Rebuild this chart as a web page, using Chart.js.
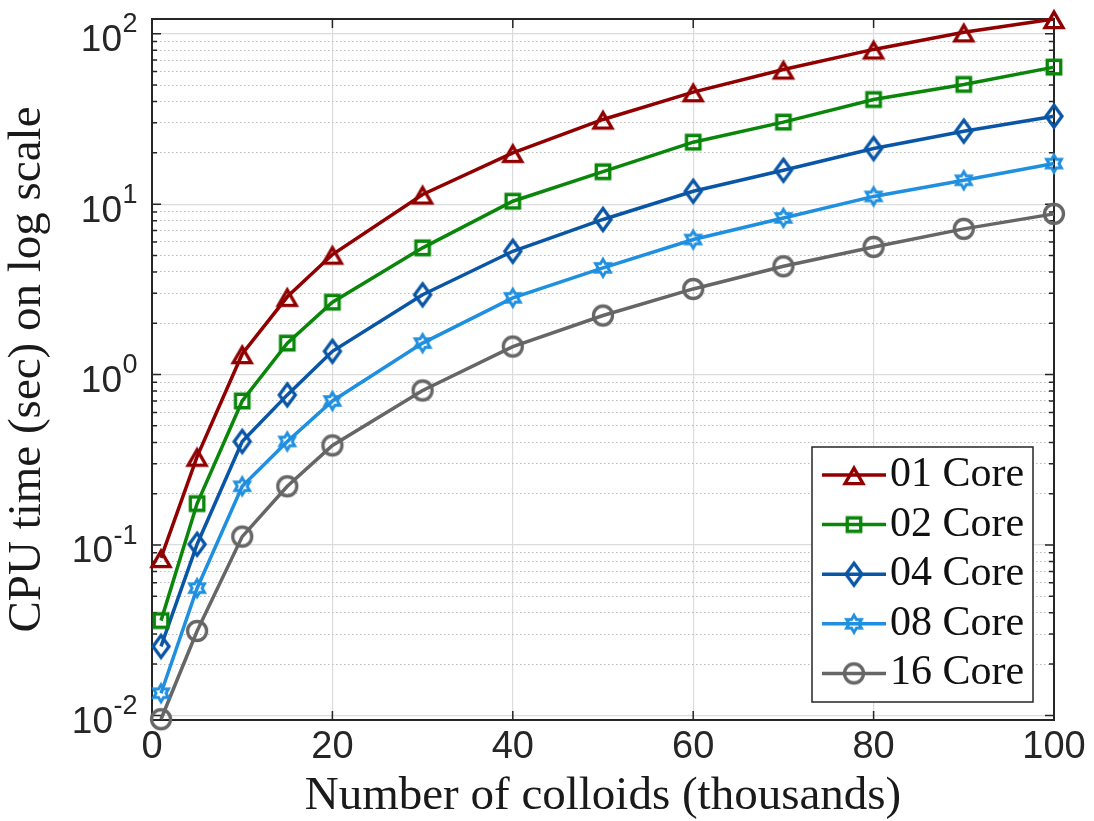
<!DOCTYPE html>
<html>
<head>
<meta charset="utf-8">
<script src="https://cdn.jsdelivr.net/npm/chart.js@4.4.1/dist/chart.umd.min.js"></script>
<style>
  html, body { margin: 0; padding: 0; background: #ffffff; }
  #wrap { width: 1094px; height: 821px; }
</style>
</head>
<body>
<div id="wrap"><canvas id="c" width="1094" height="821"></canvas></div>
<script>
// ---------------- data ----------------
const xThousands = [1, 5, 10, 15, 20, 30, 40, 50, 60, 70, 80, 90, 100];
const core01 = [0.084, 0.33, 1.32, 2.86, 5.06, 11.4, 20.0, 31.4, 45.4, 61.7, 80.9, 102, 122];
const core02 = [0.036, 0.175, 0.70, 1.53, 2.66, 5.54, 10.4, 15.5, 23.1, 30.3, 41.1, 50.4, 63.7];
const core04 = [0.0254, 0.101, 0.405, 0.76, 1.37, 2.94, 5.29, 8.13, 11.9, 15.8, 21.2, 26.8, 32.8];
const core08 = [0.0135, 0.0558, 0.221, 0.405, 0.70, 1.53, 2.82, 4.23, 6.2, 8.3, 11.1, 13.8, 17.3];
const core16 = [0.0095, 0.0313, 0.112, 0.221, 0.384, 0.807, 1.46, 2.22, 3.18, 4.32, 5.61, 7.16, 8.77];

const seriesLabels = ['01 Core', '02 Core', '04 Core', '08 Core', '16 Core'];
const seriesValues = [core01, core02, core04, core08, core16];
const seriesColors = ['#900000', '#0a870a', '#0a56a6', '#1f8fe0', '#666666'];
const seriesMarkers = ['triangle', 'square', 'diamond', 'hexagram', 'circle'];

const xTickValues = [0, 20, 40, 60, 80, 100];
const yDecadeExponents = [-2, -1, 0, 1, 2];
const yMin = 0.0094, yMax = 122;

const xTitle = 'Number of colloids (thousands)';
const yTitle = 'CPU time (sec) on log scale';

// ---------------- styling helpers ----------------
const AXIS_COLOR = '#262626';
const SANS = "'Liberation Sans', Arial, 'DejaVu Sans', sans-serif";
const SERIF = "'Liberation Serif', 'Times New Roman', 'DejaVu Serif', serif";

function makeMarker(kind, color) {
  const S = 36;
  const cv = document.createElement('canvas');
  cv.width = S; cv.height = S;
  const c = cv.getContext('2d');
  c.translate(S / 2, S / 2);
  c.strokeStyle = color;
  c.lineWidth = 3.3;
  c.lineJoin = 'miter';
  c.beginPath();
  if (kind === 'triangle') {
    const w = 18, h = 15.5;
    c.moveTo(0, -h / 2 + 0.8);
    c.lineTo(w / 2, h / 2 + 0.8);
    c.lineTo(-w / 2, h / 2 + 0.8);
    c.closePath();
  } else if (kind === 'square') {
    const s = 13.5;
    c.rect(-s / 2, -s / 2, s, s);
  } else if (kind === 'diamond') {
    const hw = 8, hh = 11;
    c.moveTo(0, -hh); c.lineTo(hw, 0); c.lineTo(0, hh); c.lineTo(-hw, 0);
    c.closePath();
  } else if (kind === 'hexagram') {
    c.lineWidth = 2.9;
    const R = 8.6, r = R / Math.sqrt(3);
    for (let k = 0; k < 12; k++) {
      const a = (-90 + k * 30) * Math.PI / 180;
      const rad = (k % 2 === 0) ? R : r;
      const px = rad * Math.cos(a), py = rad * Math.sin(a);
      if (k === 0) c.moveTo(px, py); else c.lineTo(px, py);
    }
    c.closePath();
  } else {
    c.arc(0, 0, 9.5, 0, Math.PI * 2);
  }
  c.stroke();
  return cv;
}

const markerImages = seriesMarkers.map((m, i) => makeMarker(m, seriesColors[i]));

const datasets = seriesValues.map((vals, i) => ({
  label: seriesLabels[i],
  data: xThousands.map((x, j) => ({ x: x, y: vals[j] })),
  borderColor: seriesColors[i],
  backgroundColor: seriesColors[i],
  borderWidth: 3.5,
  tension: 0,
  pointStyle: markerImages[i],
  pointRadius: 11,
  pointHoverRadius: 11,
  clip: false
}));

// y tick list: decades plus minor 2..9
const yTickValues = [];
yDecadeExponents.forEach(e => {
  for (let m = 1; m <= 9; m++) {
    const v = m * Math.pow(10, e);
    if (v >= yMin && v <= yMax) yTickValues.push(+v.toPrecision(6));
  }
});
function isDecade(v) {
  const l = Math.log10(v);
  return Math.abs(l - Math.round(l)) < 1e-6;
}

// ---------------- plugins ----------------
const framePlugin = {
  id: 'matlabFrame',
  beforeDatasetsDraw(chart) {
    const { ctx, chartArea: a, scales } = chart;
    ctx.save();
    ctx.strokeStyle = AXIS_COLOR;
    ctx.lineWidth = 1.5;
    xTickValues.forEach(v => {
      const px = scales.x.getPixelForValue(v);
      ctx.beginPath();
      ctx.moveTo(px, a.bottom); ctx.lineTo(px, a.bottom - 9);
      ctx.moveTo(px, a.top); ctx.lineTo(px, a.top + 9);
      ctx.stroke();
    });
    yTickValues.forEach(v => {
      const py = scales.y.getPixelForValue(v);
      const len = isDecade(v) ? 9 : 5;
      ctx.beginPath();
      ctx.moveTo(a.left, py); ctx.lineTo(a.left + len, py);
      ctx.moveTo(a.right, py); ctx.lineTo(a.right - len, py);
      ctx.stroke();
    });
    ctx.lineWidth = 2;
    ctx.strokeRect(a.left, a.top, a.right - a.left, a.bottom - a.top);
    ctx.restore();
  },
  afterDraw(chart) {
    const { ctx, chartArea: a, scales } = chart;
    ctx.save();
    // y tick labels as 10^e
    ctx.fillStyle = AXIS_COLOR;
    ctx.textBaseline = 'alphabetic';
    ctx.textAlign = 'right';
    const rightEdge = a.left - 14.5;
    yDecadeExponents.forEach(e => {
      const py = scales.y.getPixelForValue(Math.pow(10, e));
      const expStr = String(e);
      ctx.font = '27px ' + SANS;
      const ew = ctx.measureText(expStr).width;
      ctx.fillText(expStr, rightEdge, py - 1.3);
      ctx.font = '37px ' + SANS;
      ctx.fillText('10', rightEdge - ew - 0.5, py + 17.5);
    });

    // legend
    const bx = 812, by = 447, bw = 221, bh = 255;
    ctx.fillStyle = '#ffffff';
    ctx.fillRect(bx, by, bw, bh);
    ctx.strokeStyle = AXIS_COLOR;
    ctx.lineWidth = 1.5;
    ctx.strokeRect(bx, by, bw, bh);
    chart.data.datasets.forEach((ds, i) => {
      const cy = 475 + i * 49.6;
      ctx.strokeStyle = ds.borderColor;
      ctx.lineWidth = 3.5;
      ctx.beginPath();
      ctx.moveTo(822, cy); ctx.lineTo(886, cy);
      ctx.stroke();
      const img = ds.pointStyle;
      ctx.drawImage(img, 854 - img.width / 2, cy - img.height / 2);
      ctx.fillStyle = '#111111';
      ctx.font = '42px ' + SERIF;
      ctx.textAlign = 'left';
      ctx.textBaseline = 'alphabetic';
      ctx.fillText(ds.label, 890, cy + 11);
    });
    ctx.restore();
  }
};

new Chart(document.getElementById('c'), {
  type: 'line',
  data: { datasets: datasets },
  plugins: [framePlugin],
  options: {
    responsive: false,
    animation: false,
    devicePixelRatio: 1,
    layout: { padding: { top: 19, right: 40, left: 0, bottom: 0 } },
    plugins: { legend: { display: false }, tooltip: { enabled: false } },
    scales: {
      x: {
        type: 'linear',
        min: 0, max: 100,
        afterFit: s => { s.height = 101; },
        afterBuildTicks: s => { s.ticks = xTickValues.map(v => ({ value: v })); },
        ticks: { font: { size: 38, family: SANS }, color: AXIS_COLOR, padding: 5, maxRotation: 0, autoSkip: false },
        grid: { color: '#dcdcdc', lineWidth: 1.2, drawTicks: false },
        border: { display: false },
        title: {
          display: true, text: xTitle,
          font: { size: 47, family: SERIF, lineHeight: 1 },
          color: '#1a1a1a',
          padding: { top: 0, bottom: 1 }
        }
      },
      y: {
        type: 'logarithmic',
        min: yMin, max: yMax,
        afterFit: s => { s.width = 152; },
        afterBuildTicks: s => { s.ticks = yTickValues.map(v => ({ value: v })); },
        ticks: { display: false, autoSkip: false },
        grid: {
          drawTicks: false,
          color: c => (c.tick && !isDecade(c.tick.value)) ? '#bababa' : '#dcdcdc',
          lineWidth: c => (c.tick && !isDecade(c.tick.value)) ? 1 : 1.2
        },
        border: {
          display: false,
          dash: c => (c.tick && !isDecade(c.tick.value)) ? [1.5, 2.5] : []
        },
        title: {
          display: true, text: yTitle,
          font: { size: 47, family: SERIF, lineHeight: 1 },
          color: '#1a1a1a',
          padding: { top: 4, bottom: 0 }
        }
      }
    }
  }
});
</script>
</body>
</html>
